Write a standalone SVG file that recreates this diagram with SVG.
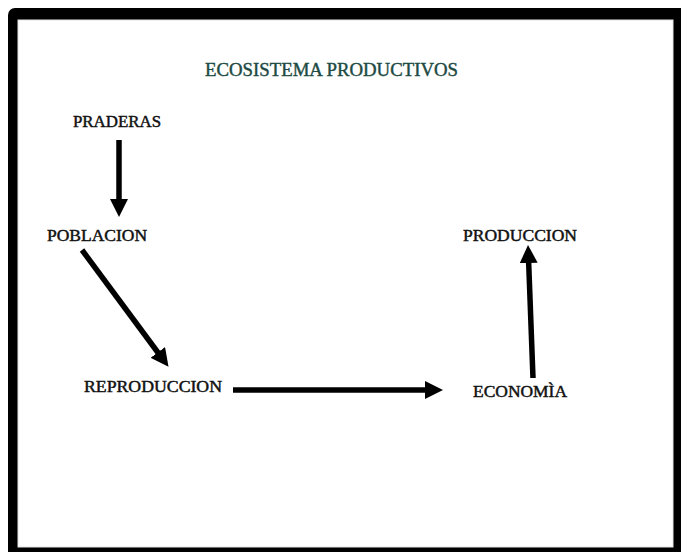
<svg xmlns="http://www.w3.org/2000/svg" width="681" height="552" viewBox="0 0 681 552">
<style>
.lbl{font-family:"Liberation Serif","Times New Roman",serif;font-size:16px;fill:#111;stroke:#111;stroke-width:0.45}
.title{font-family:"Liberation Serif","Times New Roman",serif;font-size:18px;fill:#1d4a43;stroke:#1d4a43;stroke-width:0.4}
.conn{stroke:#000;stroke-width:5.5;fill:none;marker-end:url(#ah)}
</style>
<defs>
<marker id="ah" markerUnits="userSpaceOnUse" viewBox="0 0 18 18" refX="2" refY="9" markerWidth="18" markerHeight="18" orient="auto">
<path d="M0,0 L18,9 L0,18 Z" fill="#000"/>
</marker>
</defs>
<rect x="8" y="8" width="690" height="560" rx="7" fill="#000"/>
<rect x="18" y="20" width="655" height="527" fill="#fff" stroke="#e4e4e4" stroke-width="1"/>
<text class="title" x="331.5" y="76" text-anchor="middle" textLength="253" lengthAdjust="spacingAndGlyphs">ECOSISTEMA PRODUCTIVOS</text>
<g id="connectors">
<line class="conn" x1="119" y1="140" x2="119" y2="201"/>
<line class="conn" x1="82" y1="250" x2="159" y2="354"/>
<line class="conn" x1="233" y1="390" x2="427" y2="390"/>
<line class="conn" x1="533" y1="378" x2="528.6" y2="261"/>
</g>
<g id="praderas"><text class="lbl" x="73" y="127" textLength="88" lengthAdjust="spacingAndGlyphs">PRADERAS</text></g>
<g id="poblacion"><text class="lbl" x="47" y="241" textLength="100" lengthAdjust="spacingAndGlyphs">POBLACION</text></g>
<g id="reproduccion"><text class="lbl" x="84" y="392" textLength="138" lengthAdjust="spacingAndGlyphs">REPRODUCCION</text></g>
<g id="economia"><text class="lbl" x="473" y="397" textLength="94" lengthAdjust="spacingAndGlyphs">ECONOMÌA</text></g>
<g id="produccion"><text class="lbl" x="463" y="241" textLength="114" lengthAdjust="spacingAndGlyphs">PRODUCCION</text></g>
</svg>
